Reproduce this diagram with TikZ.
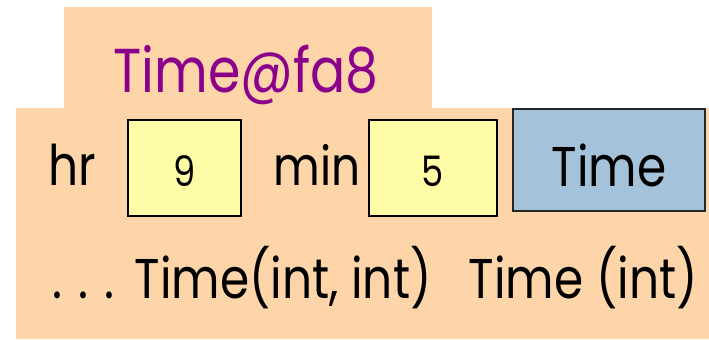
\documentclass[tikz,border=0pt]{standalone}
\usepackage{fontspec}
\setmainfont[FakeStretch=0.84]{Poppins}
\usepackage{tikz}
\usetikzlibrary{positioning}

\definecolor{peach}{RGB}{253,213,168}
\definecolor{fieldyellow}{RGB}{255,252,168}
\definecolor{classblue}{RGB}{164,194,218}
\definecolor{titlepurple}{RGB}{139,0,139}

\begin{document}
\begin{tikzpicture}[x=0.5pt, y=0.5pt,
			plain/.style={inner sep=0, font=\fontsize{28}{30}\selectfont},
			field/.style={rectangle, draw=black, line width=1.2pt, fill=fieldyellow,
				minimum height=48pt, inner sep=0, text height=18pt, text depth=0pt,
				font=\fontsize{21}{23}\selectfont},
			classbox/.style={rectangle, draw=black!85, line width=1.3pt, fill=classblue,
				minimum width=96pt, minimum height=51pt, inner sep=0,
				text height=26pt, text depth=0pt, font=\fontsize{28}{30}\selectfont}]

			\useasboundingbox (0,0) rectangle (709,339);

			% object outline
			\fill[peach] (64,231) rectangle (432,332);
			\fill[peach] (16,0) rectangle (709,231);

			\node[plain, anchor=base west, text=titlepurple, font=\fontsize{31}{33}\selectfont] (title) at (113,247) {Time@fa8};

			\node[plain, anchor=base west] (hr) at (48,154) {hr};
			\node[field, minimum width=56.5pt] (hrBox) at (184.5,171) {9};

			\node[plain, anchor=base east, font=\fontsize{27}{29}\selectfont] (min) at (361,154) {min};
			\node[field, minimum width=64pt] (minBox) at (433,171) {5};

			\node[plain, anchor=base east] (ctorTwo) at (432,41) {.\kern8pt.\kern8pt.\kern4pt\ Time(int, int)};
			\node[plain, anchor=base east] (ctorOne) at (698,41) {Time (int)};

			\node[classbox] (cls) at (609,179) {Time};
		\end{tikzpicture}
\end{document}
